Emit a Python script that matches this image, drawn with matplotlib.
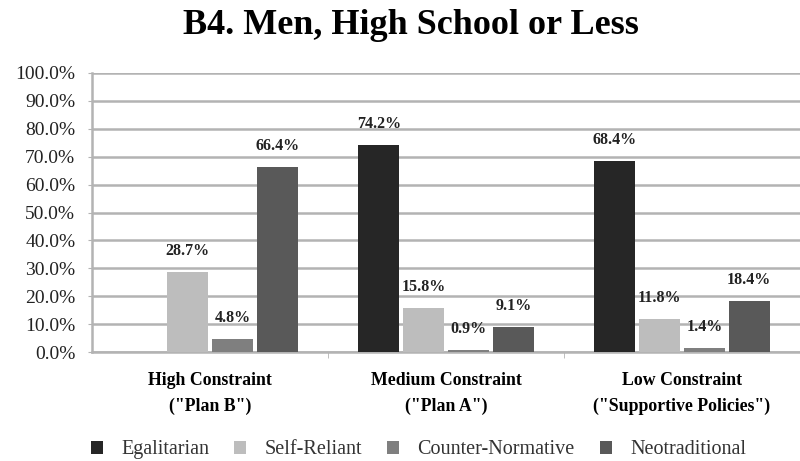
import numpy as np
import matplotlib.pyplot as plt
from matplotlib.ticker import FuncFormatter

# chart data
groups = ['High Constraint\n("Plan B")', 'Medium Constraint\n("Plan A")',
          'Low Constraint\n("Supportive Policies")']
series_names = ['Egalitarian', 'Self-Reliant', 'Counter-Normative', 'Neotraditional']
egalitarian = [0.0, 74.2, 68.4]
self_reliant = [28.7, 15.8, 11.8]
counter_normative = [4.8, 0.9, 1.4]
neotraditional = [66.4, 9.1, 18.4]
y_ticks = list(range(0, 101, 10))

colors = ['#262626', '#bdbdbd', '#7f7f7f', '#595959']

plt.rcParams['font.family'] = ['Liberation Serif', 'DejaVu Serif']

fig = plt.figure(figsize=(8, 4.61), dpi=100)
ax = fig.add_axes([0.115, 0.236, 0.885, 0.606])

x = np.arange(len(groups))
slot = 0.19
width = 0.174
all_values = [egalitarian, self_reliant, counter_normative, neotraditional]
handles = []
for i, (name, vals) in enumerate(zip(series_names, all_values)):
    pos = x + (i - 1.5) * slot
    bars = ax.bar(pos, vals, width, color=colors[i], label=name, zorder=3)
    handles.append(bars)
    for p, v in zip(pos, vals):
        if v > 0:
            ax.annotate('%.1f%%' % v, (p, v), xytext=(0, 15), textcoords='offset points',
                        ha='center', va='center', fontsize=11.5, fontweight='bold',
                        color='#222222')

ax.set_xlim(-0.5, 2.5)
ax.set_ylim(0, 100)
ax.set_yticks(y_ticks)
ax.yaxis.set_major_formatter(FuncFormatter(lambda v, p: '%.1f%%' % v))
ax.yaxis.grid(True, color='#b3b3b3', linewidth=1.8, zorder=0)
ax.set_axisbelow(True)
for s in ['top', 'right']:
    ax.spines[s].set_visible(False)
ax.spines['left'].set_color('#b3b3b3')
ax.spines['bottom'].set_color('#b3b3b3')
ax.spines['left'].set_linewidth(1.8)
ax.spines['bottom'].set_linewidth(1.8)
ax.tick_params(axis='y', labelsize=14, length=3, color='#b3b3b3', pad=9,
               labelcolor='#222222')

ax.set_xticks(x)
ax.set_xticklabels(groups, fontsize=12.8, fontweight='bold', linespacing=1.7)
ax.tick_params(axis='x', length=0, pad=14)
ax.set_xticks([0.5, 1.5], minor=True)
ax.tick_params(axis='x', which='minor', length=4, color='#b3b3b3')

fig.text(0.514, 0.944, 'B4. Men, High School or Less', fontsize=26,
         fontweight='bold', ha='center', va='center')

fig.legend(handles=handles, labels=series_names, loc='center', ncol=4,
           bbox_to_anchor=(0.523, 0.024), frameon=False, fontsize=14.5,
           handlelength=0.6, handleheight=0.6, handletextpad=0.9, columnspacing=1.25,
           labelcolor='#333333')

fig.savefig('out.png', dpi=100)
